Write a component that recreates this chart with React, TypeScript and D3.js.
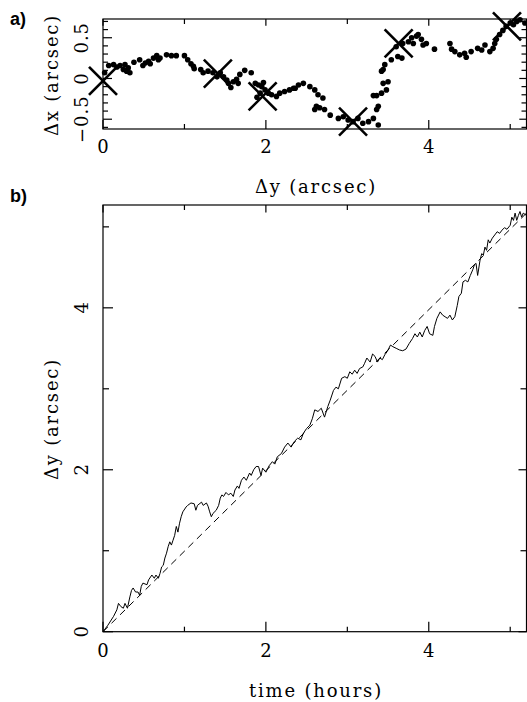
import React from "react";
import * as d3 from "d3";

// Panel a: Δx offsets vs time (hours)
const posT = [0.02,0.07,0.13,0.17,0.21,0.25,0.27,0.29,0.31,0.33,0.38,0.45,0.49,0.52,0.56,0.58,0.62,0.66,0.68,0.70,0.78,0.84,0.90,1.00,1.04,1.08,1.11,1.12,1.20,1.23,1.29,1.35,1.40,1.44,1.48,1.52,1.54,1.57,1.60,1.64,1.66,1.68,1.74,1.82,1.87,1.89,1.91,1.93,1.95,1.97,1.99,2.03,2.07,2.13,2.17,2.23,2.29,2.34,2.36,2.40,2.46,2.54,2.60,2.64,2.70,2.62,2.60,2.66,2.72,2.79,2.89,2.95,3.01,3.07,3.13,3.19,3.26,3.32,3.38,3.38,3.36,3.32,3.36,3.42,3.48,3.50,3.44,3.42,3.44,3.46,3.54,3.62,3.67,3.60,3.68,3.75,3.79,3.81,3.85,3.87,3.91,3.93,3.97,4.07,4.26,4.28,4.32,4.38,4.44,4.46,4.52,4.60,4.65,4.69,4.75,4.79,4.81,4.83,4.87,4.91,4.95,5.00,5.04,5.08,5.12,5.18];
const posX = [0.07,0.16,0.17,0.14,0.16,0.11,0.17,0.09,0.13,0.07,0.20,0.23,0.16,0.19,0.21,0.18,0.25,0.28,0.23,0.25,0.29,0.28,0.28,0.28,0.23,0.18,0.15,0.12,0.11,0.07,0.09,0.07,0.02,0.07,0.02,-0.02,-0.06,-0.11,-0.04,-0.01,-0.06,0.05,0.10,0.07,-0.06,-0.23,-0.08,-0.18,-0.10,-0.05,-0.14,-0.18,-0.20,-0.22,-0.18,-0.16,-0.14,-0.12,-0.12,-0.08,-0.06,-0.10,-0.14,-0.20,-0.24,-0.34,-0.38,-0.36,-0.38,-0.45,-0.49,-0.47,-0.51,-0.53,-0.49,-0.55,-0.53,-0.49,-0.57,-0.34,-0.38,-0.21,-0.21,-0.18,-0.14,-0.04,-0.06,0.09,0.11,0.17,0.23,0.27,0.25,0.39,0.43,0.45,0.50,0.43,0.52,0.54,0.48,0.41,0.43,0.36,0.43,0.36,0.33,0.29,0.31,0.26,0.33,0.37,0.35,0.41,0.33,0.37,0.43,0.48,0.54,0.59,0.64,0.68,0.66,0.70,0.72,0.68];

// Panel a: cross markers
const markT = [0.0, 1.41, 1.96, 3.07, 3.63, 4.96];
const markX = [-0.03, 0.06, -0.22, -0.53, 0.43, 0.64];

// Panel b: Δy track vs time
const trackT = [0,0.06,0.13,0.17,0.19,0.22,0.25,0.27,0.30,0.33,0.35,0.37,0.40,0.43,0.45,0.47,0.49,0.54,0.56,0.60,0.63,0.65,0.68,0.70,0.72,0.74,0.76,0.78,0.80,0.82,0.84,0.86,0.88,0.90,0.92,0.94,0.96,0.98,1.02,1.04,1.08,1.12,1.14,1.16,1.21,1.23,1.27,1.29,1.31,1.33,1.35,1.39,1.42,1.44,1.46,1.48,1.51,1.54,1.57,1.60,1.62,1.65,1.67,1.70,1.73,1.76,1.80,1.82,1.85,1.88,1.91,1.94,1.96,2.00,2.04,2.08,2.11,2.14,2.19,2.23,2.27,2.31,2.35,2.39,2.43,2.46,2.50,2.54,2.57,2.60,2.64,2.68,2.72,2.76,2.79,2.83,2.86,2.89,2.93,2.97,3.00,3.03,3.06,3.09,3.12,3.15,3.19,3.21,3.24,3.28,3.31,3.34,3.37,3.40,3.43,3.46,3.49,3.53,3.56,3.60,3.64,3.68,3.72,3.76,3.80,3.83,3.86,3.89,3.92,3.95,3.98,4.01,4.05,4.07,4.10,4.14,4.17,4.20,4.23,4.26,4.29,4.32,4.35,4.37,4.40,4.42,4.45,4.48,4.51,4.54,4.56,4.58,4.60,4.63,4.65,4.67,4.69,4.71,4.73,4.75,4.78,4.81,4.84,4.87,4.90,4.93,4.96,5.00,5.02,5.04,5.06,5.08,5.10,5.12,5.14,5.16,5.20];
const trackY = [0,0.08,0.19,0.27,0.35,0.31,0.29,0.35,0.29,0.43,0.51,0.54,0.49,0.49,0.45,0.56,0.60,0.58,0.64,0.70,0.66,0.70,0.66,0.72,0.80,0.82,0.91,0.97,1.05,1.11,1.07,1.13,1.19,1.30,1.23,1.34,1.42,1.48,1.54,1.56,1.59,1.58,1.50,1.56,1.60,1.56,1.59,1.55,1.48,1.42,1.46,1.50,1.56,1.65,1.69,1.67,1.72,1.69,1.71,1.67,1.75,1.80,1.77,1.87,1.91,1.87,1.96,1.93,2.00,2.04,2.04,1.93,2.02,1.97,2.05,2.10,2.07,2.16,2.20,2.28,2.33,2.28,2.35,2.39,2.37,2.45,2.51,2.55,2.63,2.74,2.72,2.76,2.65,2.78,2.86,2.98,3.02,3.00,3.13,3.15,3.13,3.21,3.18,3.23,3.19,3.25,3.27,3.31,3.38,3.33,3.43,3.40,3.33,3.38,3.36,3.42,3.46,3.54,3.52,3.50,3.48,3.47,3.49,3.56,3.62,3.68,3.64,3.70,3.64,3.72,3.77,3.68,3.66,3.77,3.87,3.95,3.91,3.89,3.87,3.91,3.85,3.89,4.03,4.14,4.18,4.32,4.34,4.32,4.40,4.47,4.53,4.55,4.40,4.59,4.67,4.65,4.75,4.71,4.84,4.80,4.86,4.90,4.94,4.92,4.96,4.99,4.97,5.02,5.12,5.08,5.17,5.08,5.14,5.19,5.12,5.17,5.14];

// Panel b: linear fit (dashed)
const fitT = [0, 5.2];
const fitY = [0, 5.17];

// Tick values
const timeMajor = [0, 2, 4];
const timeMinor = [1, 3, 5];
const dxMajor = [-0.5, 0, 0.5];
const dxMinor = [-0.6, -0.4, -0.3, -0.2, -0.1, 0.1, 0.2, 0.3, 0.4, 0.6, 0.7];
const dyMajor = [0, 2, 4];
const dyMinor = [1, 3, 5];
const dxLabels = ["\u22120.5", "0", "0.5"];

const SERIF = "'DejaVu Serif', serif";
const SANS = "'Liberation Sans', Arial, sans-serif";
const LS = 1.8;

export default function App() {
  const L = 103, R = 526.5;
  const xA = d3.scaleLinear().domain([0, 5.2]).range([L, R]);
  const yA = d3.scaleLinear().domain([-0.62, 0.73]).range([129, 19]);
  const xB = d3.scaleLinear().domain([0, 5.2]).range([L, R]);
  const yB = d3.scaleLinear().domain([0, 5.27]).range([631.7, 205]);

  const trackLine = d3.line<number>()
    .x((_, i) => xB(trackT[i]))
    .y((_, i) => yB(trackY[i]))(trackT.map((_, i) => i)) || "";
  const fitLine = d3.line<number>()
    .x((_, i) => xB(fitT[i]))
    .y((_, i) => yB(fitY[i]))(fitT.map((_, i) => i)) || "";

  const frame = (x0: number, y0: number, x1: number, y1: number) => (
    <rect x={x0} y={y0} width={x1 - x0} height={y1 - y0} fill="none" stroke="#000" strokeWidth={1.2} />
  );

  const xTicks = (sx: any, top: number, bot: number, maj: number, min: number) => (
    <g stroke="#000" strokeWidth={1.2}>
      {timeMajor.map((t) => (
        <g key={"M" + t}>
          <line x1={sx(t)} x2={sx(t)} y1={bot} y2={bot - maj} />
          <line x1={sx(t)} x2={sx(t)} y1={top} y2={top + maj * 0.75} />
        </g>
      ))}
      {timeMinor.map((t) => (
        <g key={"m" + t}>
          <line x1={sx(t)} x2={sx(t)} y1={bot} y2={bot - min} />
          <line x1={sx(t)} x2={sx(t)} y1={top} y2={top + min} />
        </g>
      ))}
    </g>
  );

  const yTicks = (sy: any, majV: number[], minV: number[], maj: number, min: number) => (
    <g stroke="#000" strokeWidth={1.2}>
      {majV.map((v) => (
        <g key={"M" + v}>
          <line x1={L} x2={L + maj} y1={sy(v)} y2={sy(v)} />
          <line x1={R} x2={R - maj * 0.8} y1={sy(v)} y2={sy(v)} />
        </g>
      ))}
      {minV.map((v) => (
        <g key={"m" + v}>
          <line x1={L} x2={L + min} y1={sy(v)} y2={sy(v)} />
          <line x1={R} x2={R - min} y1={sy(v)} y2={sy(v)} />
        </g>
      ))}
    </g>
  );

  const cs = 14;

  return (
    <svg width={527} height={702} style={{ position: "absolute", left: 0, top: 0, background: "#fff" }}>
      <rect width={527} height={702} fill="#fff" />
      {/* Panel a */}
      <text x={10} y={25} fontFamily={SANS} fontWeight="bold" fontSize={18}>a)</text>
      {frame(L, 19, R, 129)}
      {xTicks(xA, 19, 129, 9, 5)}
      {yTicks(yA, dxMajor, dxMinor, 9, 5)}
      {timeMajor.map((t) => (
        <text key={t} x={xA(t)} y={153} textAnchor="middle" fontFamily={SERIF} fontSize={18}>{t}</text>
      ))}
      {dxMajor.map((v, i) => (
        <text key={v} transform={`translate(88,${yA(v)}) rotate(-90)`} textAnchor="middle" fontFamily={SERIF} fontSize={18} letterSpacing={1}>{dxLabels[i]}</text>
      ))}
      <text transform={`translate(58,75) rotate(-90)`} textAnchor="middle" fontFamily={SERIF} fontSize={18} letterSpacing={LS}>Δx (arcsec)</text>
      <g fill="#000">
        {posT.map((t, i) => (
          <circle key={i} cx={xA(t)} cy={yA(posX[i])} r={2.8} />
        ))}
      </g>
      <g stroke="#000" strokeWidth={2.6}>
        {markT.map((t, i) => {
          const cx = xA(t), cy = yA(markX[i]);
          return (
            <g key={i}>
              <line x1={cx - cs} y1={cy - cs} x2={cx + cs} y2={cy + cs} />
              <line x1={cx - cs} y1={cy + cs} x2={cx + cs} y2={cy - cs} />
            </g>
          );
        })}
      </g>

      {/* Panel b */}
      <text x={10} y={202} fontFamily={SANS} fontWeight="bold" fontSize={18}>b)</text>
      <text x={316} y={193} textAnchor="middle" fontFamily={SERIF} fontSize={18} letterSpacing={LS}>Δy (arcsec)</text>
      {frame(L, 205, R, 631.7)}
      {xTicks(xB, 205, 631.7, 10, 5)}
      {yTicks(yB, dyMajor, dyMinor, 10, 6)}
      {timeMajor.map((t) => (
        <text key={t} x={xB(t)} y={657} textAnchor="middle" fontFamily={SERIF} fontSize={18}>{t}</text>
      ))}
      {dyMajor.map((v) => (
        <text key={v} transform={`translate(88,${yB(v)}) rotate(-90)`} textAnchor="middle" fontFamily={SERIF} fontSize={18}>{v}</text>
      ))}
      <text transform={`translate(58,419) rotate(-90)`} textAnchor="middle" fontFamily={SERIF} fontSize={18} letterSpacing={LS}>Δy (arcsec)</text>
      <text x={316} y={697} textAnchor="middle" fontFamily={SERIF} fontSize={18} letterSpacing={LS}>time (hours)</text>
      <path d={fitLine} fill="none" stroke="#000" strokeWidth={1} strokeDasharray="7,5" />
      <path d={trackLine} fill="none" stroke="#000" strokeWidth={1} strokeLinejoin="round" />
    </svg>
  );
}
